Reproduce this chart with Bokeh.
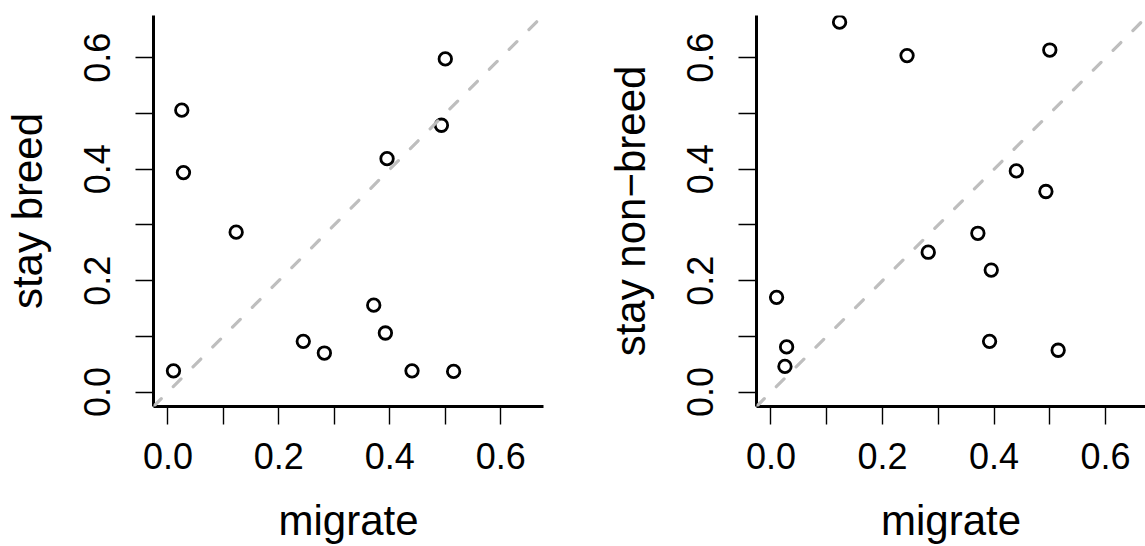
from bokeh.plotting import figure
from bokeh.models import FixedTicker, Slope, Range1d, NumeralTickFormatter
from bokeh.layouts import row
from bokeh.embed import file_html
from bokeh.resources import INLINE

# ---- data ----
migrate = [0.010, 0.025, 0.028, 0.123, 0.244, 0.282, 0.371, 0.392, 0.395, 0.440, 0.493, 0.500, 0.515]
stay_breed = [0.038, 0.506, 0.394, 0.287, 0.091, 0.070, 0.156, 0.106, 0.419, 0.038, 0.479, 0.598, 0.037]
stay_nonbreed = [0.170, 0.046, 0.081, 0.664, 0.604, 0.251, 0.285, 0.091, 0.219, 0.397, 0.360, 0.614, 0.075]

x_label = "migrate"
y_labels = ["stay breed", "stay non\u2212breed"]
tick_values = [0.0, 0.2, 0.4, 0.6]
minor_values = [0.1, 0.3, 0.5]

# axis limits c(0, 0.65) with R's 4% extension
lim_lo, lim_hi = 0.0, 0.65
ext = (lim_hi - lim_lo) * 0.04
axis_lo, axis_hi = lim_lo - ext, lim_hi + ext

FONT = "Liberation Sans"
H = 546
PX_PER_UNIT = 557.6


def panel(y, ylab, width, border_left, border_right, frame_w):
    x_end = axis_lo + frame_w / PX_PER_UNIT
    p = figure(width=width, height=H,
               x_range=Range1d(axis_lo, x_end), y_range=Range1d(axis_lo, axis_hi),
               output_backend="svg", toolbar_location=None,
               min_border_left=border_left, min_border_right=border_right,
               min_border_top=15, min_border_bottom=138)
    p.outline_line_color = None
    p.grid.visible = False
    p.background_fill_color = "white"
    p.border_fill_color = "white"
    for ax in (p.xaxis[0], p.yaxis[0]):
        ax.ticker = FixedTicker(ticks=tick_values, minor_ticks=minor_values)
        ax.formatter = NumeralTickFormatter(format="0.0")
        ax.axis_line_width = 3
        ax.axis_line_color = "black"
        ax.major_tick_line_width = 1.4
        ax.minor_tick_line_width = 1.4
        ax.major_tick_line_color = "black"
        ax.minor_tick_line_color = "black"
        ax.major_tick_out = 18
        ax.major_tick_in = 0
        ax.minor_tick_out = 18
        ax.minor_tick_in = 0
        ax.major_label_text_font = FONT
        ax.major_label_text_font_size = "36px"
        ax.major_label_text_color = "black"
        ax.axis_label_text_font = FONT
        ax.axis_label_text_font_size = "42px"
        ax.axis_label_text_font_style = "normal"
        ax.axis_label_text_color = "black"
    p.xaxis.major_label_standoff = 18
    p.yaxis.major_label_standoff = 25
    p.yaxis.major_label_orientation = "vertical"
    p.xaxis.axis_label = x_label
    p.yaxis.axis_label = ylab
    p.xaxis.axis_label_standoff = 25
    p.yaxis.axis_label_standoff = 31

    p.scatter(migrate, y, marker="circle", size=12.5, fill_color=None,
              line_color="black", line_width=2.8)
    p.add_layout(Slope(gradient=1, y_intercept=0, line_color="#BEBEBE",
                       line_width=3.2, line_dash="11 17", line_cap="round"))
    return p


p1 = panel(stay_breed, y_labels[0], 600, 151, 57, 392)
p2 = panel(stay_nonbreed, y_labels[1], 545, 156, 0, 389)

layout = row(p1, p2)
open("out.html", "w").write(file_html(layout, INLINE))
